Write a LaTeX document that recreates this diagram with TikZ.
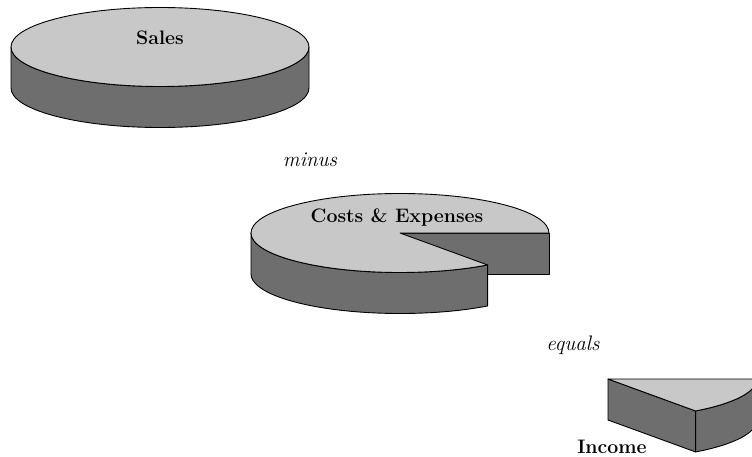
\documentclass[tikz,border=0pt]{standalone}
\usetikzlibrary{calc}
\definecolor{pietop}{RGB}{200,200,200}
\definecolor{pieside}{RGB}{110,110,110}
\begin{document}
\begin{tikzpicture}[x=1pt,y=1pt,
    topface/.style={fill=pietop,draw=black,line width=0.9pt,line join=round},
    sideface/.style={fill=pieside,draw=black,line width=0.9pt,line join=round},
    boldlabel/.style={font=\fontsize{19.5}{22}\selectfont\bfseries,inner sep=0pt},
    wordlabel/.style={font=\fontsize{21}{24}\selectfont\itshape,inner sep=0pt}]
  % page frame; the income slice runs off the right edge
  \clip (0,0) rectangle (752,-457);
  \fill[white] (0,0) rectangle (752,-457);

  \def\rx{149}
  \def\ry{39.5}
  \def\dep{41}
  \def\cut{306}

  % Sales: whole disc
  \coordinate (S) at (160,-47);
  \path[sideface] ($(S)+(-\rx,0)$) arc[start angle=180,end angle=360,x radius=\rx,y radius=\ry]
    -- ++(0,-\dep) arc[start angle=0,end angle=-180,x radius=\rx,y radius=\ry] -- cycle;
  \path[topface] (S) ellipse[x radius=\rx,y radius=\ry];
  \node[boldlabel] (sales) at (160,-38) {Sales};

  \node[wordlabel] (minus) at (310,-160) {minus};

  % Costs & Expenses: disc with a slice removed
  \coordinate (C) at (400,-233);
  \path[sideface] (C) -- ++(\rx,0) -- ++(0,-\dep) -- ++(-\rx,0) -- cycle;
  \path[sideface] ($(C)+(-\rx,0)$) arc[start angle=180,end angle=\cut,x radius=\rx,y radius=\ry]
    -- ++(0,-\dep) arc[start angle=\cut,end angle=180,x radius=\rx,y radius=\ry] -- cycle;
  \path[topface] (C) -- ++(\rx,0) arc[start angle=0,end angle=\cut,x radius=\rx,y radius=\ry] -- cycle;
  \node[boldlabel] (costs) at (397,-218) {Costs \& Expenses};

  \node[wordlabel] (equals) at (573,-345) {equals};

  % Income: the removed slice
  \coordinate (I) at (608,-379);
  \coordinate (P) at ($(I)+({\rx*cos(\cut)},{\ry*sin(\cut)})$);
  \path[sideface] (I) -- (P) -- ++(0,-\dep) -- ($(I)+(0,-\dep)$) -- cycle;
  \path[sideface] (P) arc[start angle=\cut,end angle=360,x radius=\rx,y radius=\ry]
    -- ++(0,-\dep) arc[start angle=360,end angle=\cut,x radius=\rx,y radius=\ry] -- cycle;
  \path[topface] (I) -- (P) arc[start angle=\cut,end angle=360,x radius=\rx,y radius=\ry] -- cycle;
  \node[boldlabel] (income) at (612,-447) {Income};
\end{tikzpicture}
\end{document}
